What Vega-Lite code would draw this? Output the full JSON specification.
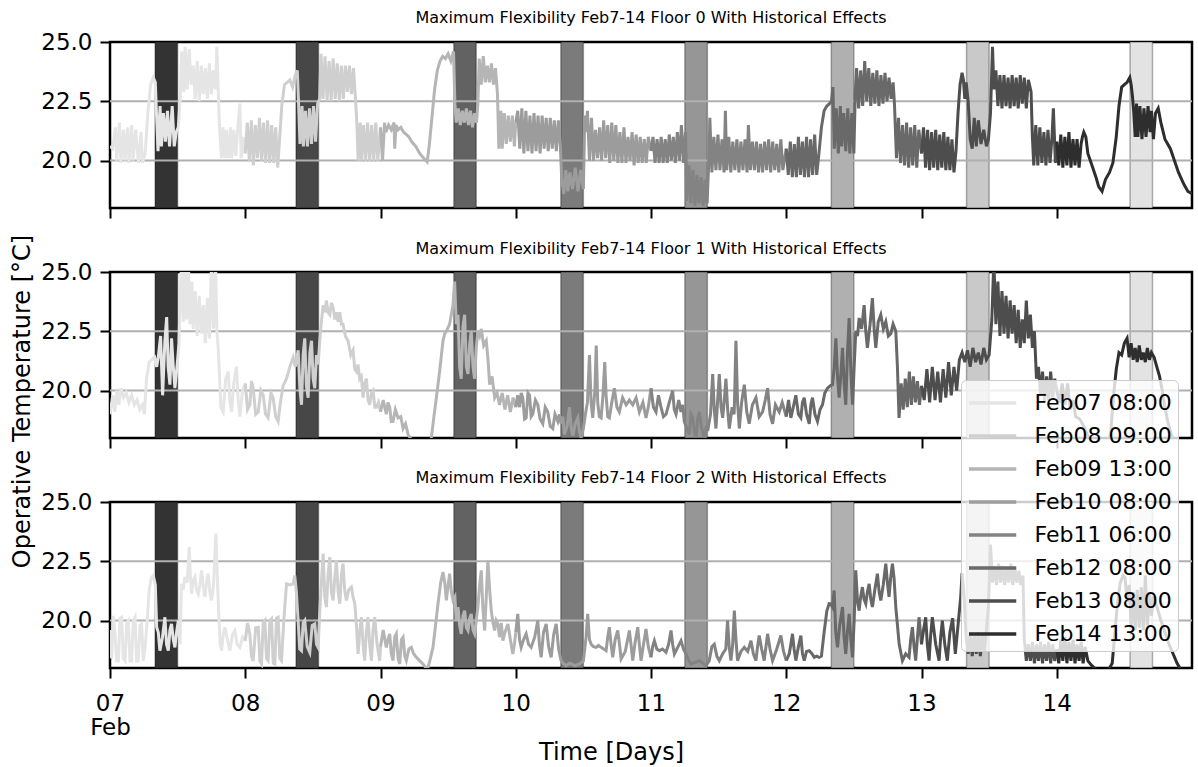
{
"$schema":"https://vega.github.io/schema/vega-lite/v6.json",
"padding":{"left":8,"top":8,"right":5,"bottom":5},
"spacing":64,
"bounds":"flush",
"config":{
"font":"DejaVu Sans",
"view":{"stroke":"black","strokeWidth":2.5},
"axis":{"domain":false,"grid":false,"tickColor":"black","tickWidth":2,"tickSize":10,"labelColor":"black","labelFontSize":23,"labelPadding":8,"titleFontSize":24,"titleFontWeight":"normal","titleColor":"black"},
"title":{"fontSize":16,"fontWeight":"normal","color":"black","offset":5,"anchor":"middle"},
"legend":{"labelFontSize":22,"labelColor":"black","symbolType":"M-1,0H2.15","symbolSize":900,"symbolStrokeWidth":3.5,"symbolOpacity":1,"symbolFillColor":"transparent","rowPadding":5,"labelOffset":33.5,"padding":6,"fillColor":"rgba(255,255,255,0.8)","strokeColor":"#cccccc","cornerRadius":5}
},
"datasets":{
"bands":[
{"s":0,"label":"Feb07 08:00","x":7.333,"x2":7.5},
{"s":1,"label":"Feb08 09:00","x":8.375,"x2":8.542},
{"s":2,"label":"Feb09 13:00","x":9.542,"x2":9.708},
{"s":3,"label":"Feb10 08:00","x":10.333,"x2":10.5},
{"s":4,"label":"Feb11 06:00","x":11.25,"x2":11.417},
{"s":5,"label":"Feb12 08:00","x":12.333,"x2":12.5},
{"s":6,"label":"Feb13 08:00","x":13.333,"x2":13.5},
{"s":7,"label":"Feb14 13:00","x":14.542,"x2":14.708}
],
"f0":[
{"s":0,"x":7.00,"y":20.6},{"s":0,"x":7.02,"y":20.5},{"s":0,"x":7.04,"y":21.4},{"s":0,"x":7.05,"y":20.0},{"s":0,"x":7.07,"y":21.6},{"s":0,"x":7.08,"y":19.9},{"s":0,"x":7.10,"y":21.3},{"s":0,"x":7.11,"y":20.0},{"s":0,"x":7.13,"y":21.4},{"s":0,"x":7.14,"y":19.9},{"s":0,"x":7.16,"y":21.5},{"s":0,"x":7.17,"y":20.0},{"s":0,"x":7.19,"y":21.3},{"s":0,"x":7.21,"y":19.9},{"s":0,"x":7.23,"y":21.2},{"s":0,"x":7.24,"y":19.9},{"s":0,"x":7.26,"y":20.3},{"s":0,"x":7.28,"y":22.0},{"s":0,"x":7.30,"y":23.2},{"s":0,"x":7.32,"y":23.5},{"s":0,"x":7.335,"y":23.3},{"s":0,"x":7.345,"y":21.8},{"s":0,"x":7.355,"y":20.4},{"s":0,"x":7.37,"y":22.3},{"s":0,"x":7.38,"y":20.6},{"s":0,"x":7.395,"y":22.0},{"s":0,"x":7.41,"y":20.8},{"s":0,"x":7.425,"y":22.1},{"s":0,"x":7.44,"y":20.6},{"s":0,"x":7.46,"y":22.3},{"s":0,"x":7.475,"y":20.6},{"s":0,"x":7.49,"y":21.2},{"s":0,"x":7.505,"y":21.4},{"s":0,"x":7.52,"y":22.7},{"s":0,"x":7.53,"y":24.6},{"s":0,"x":7.545,"y":22.9},{"s":0,"x":7.555,"y":24.8},{"s":0,"x":7.57,"y":23.0},{"s":0,"x":7.585,"y":24.7},{"s":0,"x":7.60,"y":23.2},{"s":0,"x":7.615,"y":24.0},{"s":0,"x":7.63,"y":22.6},{"s":0,"x":7.645,"y":24.2},{"s":0,"x":7.66,"y":22.5},{"s":0,"x":7.675,"y":24.0},{"s":0,"x":7.69,"y":22.8},{"s":0,"x":7.705,"y":23.9},{"s":0,"x":7.72,"y":22.6},{"s":0,"x":7.735,"y":24.1},{"s":0,"x":7.75,"y":22.8},{"s":0,"x":7.765,"y":23.8},{"s":0,"x":7.78,"y":23.0},{"s":0,"x":7.79,"y":24.8},{"s":0,"x":7.80,"y":23.0},{"s":0,"x":7.81,"y":21.4},{"s":0,"x":7.825,"y":20.1},{"s":0,"x":7.835,"y":21.4},{"s":0,"x":7.85,"y":20.1},{"s":0,"x":7.86,"y":21.3},{"s":0,"x":7.875,"y":20.1},{"s":0,"x":7.89,"y":21.4},{"s":0,"x":7.90,"y":20.1},{"s":0,"x":7.915,"y":21.3},{"s":0,"x":7.93,"y":20.2},{"s":0,"x":7.945,"y":21.4},{"s":0,"x":7.96,"y":22.4},{"s":0,"x":7.97,"y":20.1},{"s":0,"x":7.985,"y":21.0},{"s":0,"x":8.00,"y":20.3},
{"s":1,"x":8.00,"y":20.3},{"s":1,"x":8.015,"y":21.6},{"s":1,"x":8.03,"y":20.0},{"s":1,"x":8.045,"y":21.7},{"s":1,"x":8.06,"y":19.8},{"s":1,"x":8.075,"y":21.5},{"s":1,"x":8.09,"y":20.1},{"s":1,"x":8.105,"y":21.8},{"s":1,"x":8.12,"y":20.0},{"s":1,"x":8.135,"y":21.6},{"s":1,"x":8.15,"y":19.9},{"s":1,"x":8.165,"y":21.7},{"s":1,"x":8.18,"y":19.9},{"s":1,"x":8.195,"y":21.5},{"s":1,"x":8.21,"y":19.9},{"s":1,"x":8.225,"y":21.4},{"s":1,"x":8.24,"y":19.7},{"s":1,"x":8.255,"y":21.0},{"s":1,"x":8.27,"y":22.3},{"s":1,"x":8.29,"y":23.2},{"s":1,"x":8.31,"y":23.3},{"s":1,"x":8.33,"y":23.4},{"s":1,"x":8.35,"y":23.1},{"s":1,"x":8.37,"y":23.6},{"s":1,"x":8.385,"y":23.8},{"s":1,"x":8.395,"y":22.3},{"s":1,"x":8.405,"y":20.7},{"s":1,"x":8.42,"y":22.3},{"s":1,"x":8.43,"y":20.6},{"s":1,"x":8.445,"y":22.1},{"s":1,"x":8.46,"y":20.6},{"s":1,"x":8.475,"y":22.2},{"s":1,"x":8.49,"y":20.7},{"s":1,"x":8.505,"y":22.3},{"s":1,"x":8.52,"y":20.8},{"s":1,"x":8.535,"y":22.4},{"s":1,"x":8.55,"y":22.6},{"s":1,"x":8.56,"y":24.5},{"s":1,"x":8.575,"y":22.6},{"s":1,"x":8.59,"y":24.4},{"s":1,"x":8.605,"y":22.5},{"s":1,"x":8.62,"y":24.2},{"s":1,"x":8.635,"y":22.5},{"s":1,"x":8.65,"y":24.3},{"s":1,"x":8.665,"y":22.6},{"s":1,"x":8.68,"y":24.1},{"s":1,"x":8.695,"y":22.5},{"s":1,"x":8.71,"y":24.0},{"s":1,"x":8.725,"y":22.6},{"s":1,"x":8.74,"y":24.0},{"s":1,"x":8.755,"y":22.9},{"s":1,"x":8.77,"y":24.0},{"s":1,"x":8.785,"y":22.8},{"s":1,"x":8.80,"y":23.9},{"s":1,"x":8.815,"y":22.6},{"s":1,"x":8.825,"y":21.6},{"s":1,"x":8.835,"y":20.0},{"s":1,"x":8.85,"y":21.6},{"s":1,"x":8.86,"y":20.0},{"s":1,"x":8.875,"y":21.5},{"s":1,"x":8.89,"y":20.0},{"s":1,"x":8.905,"y":21.6},{"s":1,"x":8.92,"y":20.0},{"s":1,"x":8.935,"y":21.5},{"s":1,"x":8.95,"y":20.0},{"s":1,"x":8.965,"y":21.6},{"s":1,"x":8.98,"y":20.0},{"s":1,"x":9.00,"y":21.4},
{"s":2,"x":9.00,"y":21.4},{"s":2,"x":9.015,"y":20.0},{"s":2,"x":9.03,"y":21.6},{"s":2,"x":9.04,"y":21.2},{"s":2,"x":9.06,"y":21.5},{"s":2,"x":9.08,"y":21.3},{"s":2,"x":9.10,"y":21.6},{"s":2,"x":9.105,"y":20.5},{"s":2,"x":9.115,"y":21.5},{"s":2,"x":9.13,"y":21.3},{"s":2,"x":9.15,"y":21.4},{"s":2,"x":9.17,"y":21.2},{"s":2,"x":9.19,"y":21.1},{"s":2,"x":9.21,"y":21.0},{"s":2,"x":9.23,"y":20.8},{"s":2,"x":9.26,"y":20.6},{"s":2,"x":9.29,"y":20.3},{"s":2,"x":9.32,"y":20.1},{"s":2,"x":9.345,"y":19.95},{"s":2,"x":9.36,"y":20.6},{"s":2,"x":9.38,"y":21.8},{"s":2,"x":9.40,"y":23.0},{"s":2,"x":9.42,"y":23.8},{"s":2,"x":9.44,"y":24.2},{"s":2,"x":9.46,"y":24.4},{"s":2,"x":9.48,"y":24.3},{"s":2,"x":9.50,"y":24.5},{"s":2,"x":9.52,"y":24.2},{"s":2,"x":9.54,"y":24.6},{"s":2,"x":9.55,"y":22.4},{"s":2,"x":9.56,"y":21.6},{"s":2,"x":9.575,"y":22.2},{"s":2,"x":9.59,"y":21.5},{"s":2,"x":9.605,"y":22.1},{"s":2,"x":9.62,"y":21.6},{"s":2,"x":9.635,"y":22.2},{"s":2,"x":9.65,"y":21.5},{"s":2,"x":9.665,"y":22.1},{"s":2,"x":9.68,"y":21.4},{"s":2,"x":9.695,"y":22.0},{"s":2,"x":9.71,"y":21.6},{"s":2,"x":9.72,"y":22.4},{"s":2,"x":9.73,"y":24.3},{"s":2,"x":9.745,"y":23.2},{"s":2,"x":9.76,"y":24.4},{"s":2,"x":9.775,"y":23.3},{"s":2,"x":9.79,"y":24.0},{"s":2,"x":9.805,"y":23.3},{"s":2,"x":9.82,"y":24.1},{"s":2,"x":9.835,"y":23.2},{"s":2,"x":9.85,"y":23.9},{"s":2,"x":9.865,"y":22.8},{"s":2,"x":9.875,"y":20.5},{"s":2,"x":9.89,"y":22.1},{"s":2,"x":9.90,"y":20.5},{"s":2,"x":9.915,"y":22.0},{"s":2,"x":9.93,"y":20.7},{"s":2,"x":9.945,"y":21.9},{"s":2,"x":9.96,"y":20.8},{"s":2,"x":9.975,"y":21.9},{"s":2,"x":9.99,"y":20.6},{"s":2,"x":10.00,"y":21.6},
{"s":3,"x":10.00,"y":21.6},{"s":3,"x":10.015,"y":22.1},{"s":3,"x":10.03,"y":20.5},{"s":3,"x":10.045,"y":22.2},{"s":3,"x":10.06,"y":20.3},{"s":3,"x":10.075,"y":22.1},{"s":3,"x":10.09,"y":20.4},{"s":3,"x":10.105,"y":21.9},{"s":3,"x":10.12,"y":20.3},{"s":3,"x":10.135,"y":22.0},{"s":3,"x":10.15,"y":20.4},{"s":3,"x":10.165,"y":21.9},{"s":3,"x":10.18,"y":20.3},{"s":3,"x":10.195,"y":21.9},{"s":3,"x":10.21,"y":20.5},{"s":3,"x":10.225,"y":21.8},{"s":3,"x":10.24,"y":20.4},{"s":3,"x":10.255,"y":21.8},{"s":3,"x":10.27,"y":20.5},{"s":3,"x":10.285,"y":21.7},{"s":3,"x":10.30,"y":20.4},{"s":3,"x":10.315,"y":21.7},{"s":3,"x":10.33,"y":20.6},{"s":3,"x":10.34,"y":19.2},{"s":3,"x":10.355,"y":18.6},{"s":3,"x":10.37,"y":19.6},{"s":3,"x":10.385,"y":18.7},{"s":3,"x":10.40,"y":19.5},{"s":3,"x":10.42,"y":18.8},{"s":3,"x":10.44,"y":19.7},{"s":3,"x":10.46,"y":18.7},{"s":3,"x":10.48,"y":19.6},{"s":3,"x":10.50,"y":18.8},{"s":3,"x":10.51,"y":21.9},{"s":3,"x":10.52,"y":21.2},{"s":3,"x":10.53,"y":22.1},{"s":3,"x":10.545,"y":20.0},{"s":3,"x":10.56,"y":21.8},{"s":3,"x":10.575,"y":20.0},{"s":3,"x":10.59,"y":21.3},{"s":3,"x":10.605,"y":20.1},{"s":3,"x":10.62,"y":21.4},{"s":3,"x":10.635,"y":20.0},{"s":3,"x":10.65,"y":21.7},{"s":3,"x":10.665,"y":20.1},{"s":3,"x":10.68,"y":21.5},{"s":3,"x":10.695,"y":19.9},{"s":3,"x":10.71,"y":21.6},{"s":3,"x":10.725,"y":20.0},{"s":3,"x":10.74,"y":21.5},{"s":3,"x":10.755,"y":19.9},{"s":3,"x":10.77,"y":21.2},{"s":3,"x":10.785,"y":19.9},{"s":3,"x":10.80,"y":21.4},{"s":3,"x":10.815,"y":19.9},{"s":3,"x":10.83,"y":21.0},{"s":3,"x":10.845,"y":20.0},{"s":3,"x":10.86,"y":21.2},{"s":3,"x":10.875,"y":19.8},{"s":3,"x":10.89,"y":21.1},{"s":3,"x":10.905,"y":19.9},{"s":3,"x":10.92,"y":21.0},{"s":3,"x":10.935,"y":19.9},{"s":3,"x":10.95,"y":20.9},{"s":3,"x":10.965,"y":19.9},{"s":3,"x":10.98,"y":21.0},{"s":3,"x":11.00,"y":20.4},
{"s":4,"x":11.00,"y":20.4},{"s":4,"x":11.015,"y":21.0},{"s":4,"x":11.03,"y":19.9},{"s":4,"x":11.045,"y":20.9},{"s":4,"x":11.06,"y":19.9},{"s":4,"x":11.075,"y":21.0},{"s":4,"x":11.09,"y":19.9},{"s":4,"x":11.105,"y":20.9},{"s":4,"x":11.12,"y":19.9},{"s":4,"x":11.135,"y":21.1},{"s":4,"x":11.15,"y":20.0},{"s":4,"x":11.165,"y":21.0},{"s":4,"x":11.18,"y":19.9},{"s":4,"x":11.195,"y":21.2},{"s":4,"x":11.21,"y":20.0},{"s":4,"x":11.225,"y":21.5},{"s":4,"x":11.24,"y":19.9},{"s":4,"x":11.255,"y":21.2},{"s":4,"x":11.265,"y":18.3},{"s":4,"x":11.28,"y":19.8},{"s":4,"x":11.295,"y":18.2},{"s":4,"x":11.31,"y":19.6},{"s":4,"x":11.325,"y":18.1},{"s":4,"x":11.34,"y":19.4},{"s":4,"x":11.355,"y":18.2},{"s":4,"x":11.37,"y":19.3},{"s":4,"x":11.385,"y":18.1},{"s":4,"x":11.40,"y":19.2},{"s":4,"x":11.415,"y":18.2},{"s":4,"x":11.43,"y":20.4},{"s":4,"x":11.435,"y":21.8},{"s":4,"x":11.45,"y":19.5},{"s":4,"x":11.465,"y":21.0},{"s":4,"x":11.48,"y":19.6},{"s":4,"x":11.495,"y":21.1},{"s":4,"x":11.51,"y":19.6},{"s":4,"x":11.525,"y":20.9},{"s":4,"x":11.54,"y":19.5},{"s":4,"x":11.55,"y":22.1},{"s":4,"x":11.56,"y":19.6},{"s":4,"x":11.575,"y":21.0},{"s":4,"x":11.59,"y":19.5},{"s":4,"x":11.605,"y":20.8},{"s":4,"x":11.62,"y":19.6},{"s":4,"x":11.635,"y":20.9},{"s":4,"x":11.65,"y":19.5},{"s":4,"x":11.665,"y":20.8},{"s":4,"x":11.68,"y":19.6},{"s":4,"x":11.695,"y":20.9},{"s":4,"x":11.71,"y":19.5},{"s":4,"x":11.72,"y":21.5},{"s":4,"x":11.735,"y":19.6},{"s":4,"x":11.75,"y":20.8},{"s":4,"x":11.765,"y":19.6},{"s":4,"x":11.78,"y":20.8},{"s":4,"x":11.795,"y":19.5},{"s":4,"x":11.81,"y":20.7},{"s":4,"x":11.825,"y":19.5},{"s":4,"x":11.84,"y":20.8},{"s":4,"x":11.855,"y":19.6},{"s":4,"x":11.87,"y":20.9},{"s":4,"x":11.885,"y":19.5},{"s":4,"x":11.90,"y":20.8},{"s":4,"x":11.915,"y":19.6},{"s":4,"x":11.93,"y":20.7},{"s":4,"x":11.945,"y":19.5},{"s":4,"x":11.96,"y":20.9},{"s":4,"x":11.975,"y":19.6},{"s":4,"x":12.00,"y":20.5},
{"s":5,"x":12.00,"y":20.5},{"s":5,"x":12.015,"y":19.4},{"s":5,"x":12.03,"y":20.8},{"s":5,"x":12.045,"y":19.3},{"s":5,"x":12.06,"y":20.7},{"s":5,"x":12.075,"y":19.3},{"s":5,"x":12.09,"y":21.0},{"s":5,"x":12.105,"y":19.4},{"s":5,"x":12.12,"y":20.8},{"s":5,"x":12.135,"y":19.3},{"s":5,"x":12.15,"y":21.0},{"s":5,"x":12.165,"y":19.3},{"s":5,"x":12.18,"y":20.9},{"s":5,"x":12.195,"y":19.4},{"s":5,"x":12.21,"y":21.1},{"s":5,"x":12.225,"y":19.4},{"s":5,"x":12.24,"y":20.2},{"s":5,"x":12.26,"y":21.4},{"s":5,"x":12.28,"y":22.1},{"s":5,"x":12.30,"y":22.3},{"s":5,"x":12.32,"y":22.4},{"s":5,"x":12.335,"y":22.5},{"s":5,"x":12.345,"y":23.1},{"s":5,"x":12.355,"y":20.5},{"s":5,"x":12.37,"y":22.2},{"s":5,"x":12.385,"y":20.3},{"s":5,"x":12.40,"y":22.3},{"s":5,"x":12.41,"y":20.6},{"s":5,"x":12.425,"y":22.0},{"s":5,"x":12.44,"y":20.4},{"s":5,"x":12.455,"y":22.2},{"s":5,"x":12.47,"y":20.3},{"s":5,"x":12.485,"y":22.0},{"s":5,"x":12.50,"y":20.3},{"s":5,"x":12.51,"y":22.8},{"s":5,"x":12.52,"y":23.9},{"s":5,"x":12.535,"y":22.2},{"s":5,"x":12.55,"y":23.8},{"s":5,"x":12.565,"y":22.3},{"s":5,"x":12.58,"y":24.2},{"s":5,"x":12.595,"y":22.5},{"s":5,"x":12.61,"y":23.9},{"s":5,"x":12.625,"y":22.3},{"s":5,"x":12.64,"y":23.7},{"s":5,"x":12.655,"y":22.4},{"s":5,"x":12.67,"y":23.8},{"s":5,"x":12.685,"y":22.3},{"s":5,"x":12.70,"y":23.6},{"s":5,"x":12.715,"y":22.4},{"s":5,"x":12.73,"y":23.7},{"s":5,"x":12.745,"y":22.5},{"s":5,"x":12.76,"y":23.5},{"s":5,"x":12.775,"y":22.6},{"s":5,"x":12.79,"y":23.3},{"s":5,"x":12.80,"y":22.4},{"s":5,"x":12.815,"y":20.1},{"s":5,"x":12.83,"y":21.8},{"s":5,"x":12.845,"y":19.9},{"s":5,"x":12.86,"y":21.5},{"s":5,"x":12.875,"y":19.8},{"s":5,"x":12.89,"y":21.6},{"s":5,"x":12.905,"y":19.7},{"s":5,"x":12.92,"y":21.4},{"s":5,"x":12.935,"y":19.8},{"s":5,"x":12.95,"y":21.5},{"s":5,"x":12.965,"y":19.7},{"s":5,"x":12.98,"y":21.3},{"s":5,"x":13.00,"y":20.3},
{"s":6,"x":13.00,"y":20.3},{"s":6,"x":13.015,"y":21.4},{"s":6,"x":13.03,"y":19.7},{"s":6,"x":13.045,"y":21.3},{"s":6,"x":13.06,"y":19.6},{"s":6,"x":13.075,"y":21.2},{"s":6,"x":13.09,"y":19.7},{"s":6,"x":13.105,"y":21.3},{"s":6,"x":13.12,"y":19.6},{"s":6,"x":13.135,"y":21.1},{"s":6,"x":13.15,"y":19.7},{"s":6,"x":13.165,"y":21.2},{"s":6,"x":13.18,"y":19.6},{"s":6,"x":13.195,"y":21.0},{"s":6,"x":13.21,"y":19.6},{"s":6,"x":13.225,"y":20.9},{"s":6,"x":13.24,"y":19.5},{"s":6,"x":13.255,"y":20.4},{"s":6,"x":13.27,"y":22.0},{"s":6,"x":13.285,"y":23.2},{"s":6,"x":13.30,"y":23.7},{"s":6,"x":13.31,"y":23.4},{"s":6,"x":13.32,"y":22.6},{"s":6,"x":13.33,"y":23.3},{"s":6,"x":13.345,"y":22.5},{"s":6,"x":13.36,"y":20.9},{"s":6,"x":13.375,"y":20.5},{"s":6,"x":13.39,"y":21.8},{"s":6,"x":13.405,"y":20.6},{"s":6,"x":13.42,"y":21.7},{"s":6,"x":13.44,"y":20.7},{"s":6,"x":13.46,"y":21.3},{"s":6,"x":13.48,"y":20.6},{"s":6,"x":13.495,"y":20.9},{"s":6,"x":13.51,"y":22.0},{"s":6,"x":13.525,"y":24.8},{"s":6,"x":13.535,"y":23.0},{"s":6,"x":13.55,"y":23.8},{"s":6,"x":13.565,"y":22.3},{"s":6,"x":13.58,"y":23.6},{"s":6,"x":13.595,"y":22.2},{"s":6,"x":13.61,"y":23.6},{"s":6,"x":13.625,"y":22.3},{"s":6,"x":13.64,"y":23.5},{"s":6,"x":13.655,"y":22.2},{"s":6,"x":13.67,"y":23.6},{"s":6,"x":13.685,"y":22.3},{"s":6,"x":13.70,"y":23.5},{"s":6,"x":13.715,"y":22.2},{"s":6,"x":13.73,"y":23.6},{"s":6,"x":13.745,"y":22.4},{"s":6,"x":13.76,"y":23.5},{"s":6,"x":13.775,"y":22.2},{"s":6,"x":13.79,"y":23.4},{"s":6,"x":13.81,"y":22.9},{"s":6,"x":13.82,"y":21.0},{"s":6,"x":13.83,"y":19.8},{"s":6,"x":13.845,"y":21.5},{"s":6,"x":13.86,"y":19.8},{"s":6,"x":13.875,"y":21.4},{"s":6,"x":13.89,"y":19.9},{"s":6,"x":13.905,"y":21.2},{"s":6,"x":13.92,"y":19.8},{"s":6,"x":13.935,"y":21.3},{"s":6,"x":13.95,"y":19.9},{"s":6,"x":13.965,"y":21.0},{"s":6,"x":13.975,"y":22.2},{"s":6,"x":13.99,"y":19.9},{"s":6,"x":14.00,"y":20.8},
{"s":7,"x":14.00,"y":20.8},{"s":7,"x":14.015,"y":19.8},{"s":7,"x":14.03,"y":21.1},{"s":7,"x":14.045,"y":19.7},{"s":7,"x":14.06,"y":21.0},{"s":7,"x":14.075,"y":19.8},{"s":7,"x":14.09,"y":21.2},{"s":7,"x":14.105,"y":19.7},{"s":7,"x":14.12,"y":20.9},{"s":7,"x":14.135,"y":19.8},{"s":7,"x":14.15,"y":20.9},{"s":7,"x":14.165,"y":19.7},{"s":7,"x":14.18,"y":20.7},{"s":7,"x":14.19,"y":21.0},{"s":7,"x":14.20,"y":21.2},{"s":7,"x":14.215,"y":21.0},{"s":7,"x":14.23,"y":20.3},{"s":7,"x":14.26,"y":19.8},{"s":7,"x":14.29,"y":19.3},{"s":7,"x":14.31,"y":18.9},{"s":7,"x":14.335,"y":18.7},{"s":7,"x":14.36,"y":19.2},{"s":7,"x":14.39,"y":19.5},{"s":7,"x":14.415,"y":19.9},{"s":7,"x":14.44,"y":21.0},{"s":7,"x":14.46,"y":22.3},{"s":7,"x":14.48,"y":23.1},{"s":7,"x":14.50,"y":23.2},{"s":7,"x":14.52,"y":23.3},{"s":7,"x":14.54,"y":23.5},{"s":7,"x":14.55,"y":23.2},{"s":7,"x":14.56,"y":22.7},{"s":7,"x":14.57,"y":22.0},{"s":7,"x":14.58,"y":21.0},{"s":7,"x":14.59,"y":22.4},{"s":7,"x":14.60,"y":21.0},{"s":7,"x":14.615,"y":22.3},{"s":7,"x":14.63,"y":20.9},{"s":7,"x":14.645,"y":22.2},{"s":7,"x":14.66,"y":21.0},{"s":7,"x":14.675,"y":22.3},{"s":7,"x":14.69,"y":21.2},{"s":7,"x":14.70,"y":22.1},{"s":7,"x":14.715,"y":20.9},{"s":7,"x":14.73,"y":22.0},{"s":7,"x":14.75,"y":22.2},{"s":7,"x":14.77,"y":21.6},{"s":7,"x":14.80,"y":20.9},{"s":7,"x":14.84,"y":20.5},{"s":7,"x":14.87,"y":20.0},{"s":7,"x":14.90,"y":19.5},{"s":7,"x":14.94,"y":19.0},{"s":7,"x":14.97,"y":18.7},{"s":7,"x":15.00,"y":18.6}
],
"f1":[
{"s":0,"x":7.00,"y":19.0},{"s":0,"x":7.02,"y":19.8},{"s":0,"x":7.035,"y":19.1},{"s":0,"x":7.05,"y":20.0},{"s":0,"x":7.065,"y":19.4},{"s":0,"x":7.08,"y":20.1},{"s":0,"x":7.10,"y":19.7},{"s":0,"x":7.12,"y":19.9},{"s":0,"x":7.14,"y":19.5},{"s":0,"x":7.16,"y":19.8},{"s":0,"x":7.18,"y":19.4},{"s":0,"x":7.20,"y":19.6},{"s":0,"x":7.22,"y":19.2},{"s":0,"x":7.24,"y":19.4},{"s":0,"x":7.255,"y":19.0},{"s":0,"x":7.27,"y":20.5},{"s":0,"x":7.29,"y":21.2},{"s":0,"x":7.31,"y":21.3},{"s":0,"x":7.33,"y":21.4},{"s":0,"x":7.345,"y":21.0},{"s":0,"x":7.357,"y":21.4},{"s":0,"x":7.374,"y":22.3},{"s":0,"x":7.389,"y":19.8},{"s":0,"x":7.406,"y":22.1},{"s":0,"x":7.419,"y":23.1},{"s":0,"x":7.43,"y":21.0},{"s":0,"x":7.443,"y":20.25},{"s":0,"x":7.455,"y":22.2},{"s":0,"x":7.468,"y":21.0},{"s":0,"x":7.48,"y":20.1},{"s":0,"x":7.497,"y":21.1},{"s":0,"x":7.51,"y":22.0},{"s":0,"x":7.517,"y":23.5},{"s":0,"x":7.529,"y":25.5},{"s":0,"x":7.542,"y":22.9},{"s":0,"x":7.555,"y":25.3},{"s":0,"x":7.566,"y":23.0},{"s":0,"x":7.58,"y":25.4},{"s":0,"x":7.591,"y":22.8},{"s":0,"x":7.605,"y":24.6},{"s":0,"x":7.615,"y":22.6},{"s":0,"x":7.63,"y":24.2},{"s":0,"x":7.645,"y":22.3},{"s":0,"x":7.66,"y":24.0},{"s":0,"x":7.675,"y":22.4},{"s":0,"x":7.69,"y":23.6},{"s":0,"x":7.705,"y":22.0},{"s":0,"x":7.72,"y":23.9},{"s":0,"x":7.735,"y":22.2},{"s":0,"x":7.75,"y":25.3},{"s":0,"x":7.765,"y":22.6},{"s":0,"x":7.78,"y":25.5},{"s":0,"x":7.79,"y":22.5},{"s":0,"x":7.80,"y":21.8},{"s":0,"x":7.82,"y":19.3},{"s":0,"x":7.837,"y":19.1},{"s":0,"x":7.855,"y":20.5},{"s":0,"x":7.874,"y":20.8},{"s":0,"x":7.886,"y":19.6},{"s":0,"x":7.899,"y":19.1},{"s":0,"x":7.915,"y":20.3},{"s":0,"x":7.935,"y":21.0},{"s":0,"x":7.948,"y":19.6},{"s":0,"x":7.96,"y":18.9},{"s":0,"x":7.98,"y":20.0},{"s":0,"x":8.00,"y":20.3},
{"s":1,"x":8.00,"y":20.3},{"s":1,"x":8.017,"y":19.2},{"s":1,"x":8.034,"y":19.4},{"s":1,"x":8.046,"y":20.4},{"s":1,"x":8.059,"y":20.1},{"s":1,"x":8.077,"y":19.0},{"s":1,"x":8.096,"y":19.1},{"s":1,"x":8.115,"y":20.0},{"s":1,"x":8.133,"y":19.8},{"s":1,"x":8.15,"y":19.0},{"s":1,"x":8.169,"y":18.85},{"s":1,"x":8.19,"y":19.9},{"s":1,"x":8.206,"y":19.7},{"s":1,"x":8.225,"y":18.9},{"s":1,"x":8.243,"y":18.7},{"s":1,"x":8.26,"y":19.5},{"s":1,"x":8.28,"y":20.2},{"s":1,"x":8.305,"y":20.5},{"s":1,"x":8.33,"y":21.0},{"s":1,"x":8.354,"y":21.4},{"s":1,"x":8.37,"y":21.0},{"s":1,"x":8.391,"y":21.7},{"s":1,"x":8.405,"y":20.0},{"s":1,"x":8.416,"y":19.4},{"s":1,"x":8.428,"y":21.5},{"s":1,"x":8.44,"y":22.2},{"s":1,"x":8.452,"y":20.2},{"s":1,"x":8.465,"y":19.7},{"s":1,"x":8.478,"y":21.6},{"s":1,"x":8.49,"y":22.1},{"s":1,"x":8.502,"y":20.5},{"s":1,"x":8.514,"y":20.1},{"s":1,"x":8.527,"y":21.5},{"s":1,"x":8.539,"y":21.1},{"s":1,"x":8.551,"y":22.1},{"s":1,"x":8.563,"y":22.9},{"s":1,"x":8.576,"y":23.6},{"s":1,"x":8.588,"y":23.3},{"s":1,"x":8.6,"y":23.8},{"s":1,"x":8.612,"y":23.3},{"s":1,"x":8.625,"y":23.2},{"s":1,"x":8.637,"y":23.7},{"s":1,"x":8.65,"y":23.5},{"s":1,"x":8.662,"y":23.0},{"s":1,"x":8.674,"y":23.3},{"s":1,"x":8.687,"y":22.9},{"s":1,"x":8.699,"y":23.3},{"s":1,"x":8.711,"y":22.8},{"s":1,"x":8.723,"y":22.8},{"s":1,"x":8.74,"y":22.3},{"s":1,"x":8.76,"y":22.1},{"s":1,"x":8.78,"y":21.5},{"s":1,"x":8.797,"y":21.7},{"s":1,"x":8.81,"y":20.9},{"s":1,"x":8.822,"y":20.8},{"s":1,"x":8.834,"y":21.1},{"s":1,"x":8.846,"y":20.5},{"s":1,"x":8.858,"y":20.6},{"s":1,"x":8.871,"y":19.7},{"s":1,"x":8.883,"y":20.3},{"s":1,"x":8.896,"y":20.5},{"s":1,"x":8.908,"y":19.6},{"s":1,"x":8.92,"y":19.4},{"s":1,"x":8.933,"y":19.9},{"s":1,"x":8.945,"y":20.0},{"s":1,"x":8.958,"y":19.3},{"s":1,"x":8.97,"y":19.3},{"s":1,"x":8.985,"y":19.5},{"s":1,"x":9.00,"y":19.1},
{"s":2,"x":9.00,"y":19.1},{"s":2,"x":9.02,"y":19.6},{"s":2,"x":9.043,"y":19.0},{"s":2,"x":9.055,"y":19.5},{"s":2,"x":9.068,"y":19.3},{"s":2,"x":9.08,"y":18.7},{"s":2,"x":9.093,"y":18.7},{"s":2,"x":9.11,"y":19.2},{"s":2,"x":9.13,"y":18.85},{"s":2,"x":9.15,"y":18.9},{"s":2,"x":9.167,"y":18.4},{"s":2,"x":9.185,"y":18.6},{"s":2,"x":9.204,"y":18.15},{"s":2,"x":9.22,"y":18.0},{"s":2,"x":9.25,"y":17.6},{"s":2,"x":9.28,"y":17.3},{"s":2,"x":9.31,"y":17.2},{"s":2,"x":9.34,"y":17.4},{"s":2,"x":9.36,"y":17.7},{"s":2,"x":9.376,"y":18.0},{"s":2,"x":9.395,"y":18.9},{"s":2,"x":9.413,"y":19.7},{"s":2,"x":9.437,"y":20.8},{"s":2,"x":9.462,"y":22.1},{"s":2,"x":9.475,"y":22.4},{"s":2,"x":9.487,"y":22.5},{"s":2,"x":9.511,"y":22.8},{"s":2,"x":9.536,"y":23.6},{"s":2,"x":9.548,"y":24.6},{"s":2,"x":9.56,"y":22.8},{"s":2,"x":9.573,"y":23.2},{"s":2,"x":9.585,"y":21.0},{"s":2,"x":9.597,"y":20.5},{"s":2,"x":9.61,"y":22.7},{"s":2,"x":9.622,"y":23.2},{"s":2,"x":9.635,"y":21.0},{"s":2,"x":9.647,"y":20.7},{"s":2,"x":9.66,"y":22.0},{"s":2,"x":9.671,"y":22.5},{"s":2,"x":9.684,"y":21.0},{"s":2,"x":9.696,"y":20.5},{"s":2,"x":9.708,"y":21.8},{"s":2,"x":9.72,"y":22.5},{"s":2,"x":9.733,"y":22.3},{"s":2,"x":9.745,"y":22.6},{"s":2,"x":9.763,"y":21.9},{"s":2,"x":9.782,"y":22.1},{"s":2,"x":9.795,"y":21.3},{"s":2,"x":9.807,"y":20.25},{"s":2,"x":9.825,"y":20.6},{"s":2,"x":9.844,"y":19.7},{"s":2,"x":9.862,"y":19.9},{"s":2,"x":9.88,"y":19.4},{"s":2,"x":9.90,"y":19.9},{"s":2,"x":9.92,"y":19.2},{"s":2,"x":9.94,"y":19.8},{"s":2,"x":9.96,"y":19.1},{"s":2,"x":9.98,"y":19.7},{"s":2,"x":10.00,"y":19.3},
{"s":3,"x":10.00,"y":19.3},{"s":3,"x":10.014,"y":19.8},{"s":3,"x":10.028,"y":19.3},{"s":3,"x":10.04,"y":19.9},{"s":3,"x":10.052,"y":19.7},{"s":3,"x":10.065,"y":18.8},{"s":3,"x":10.077,"y":18.85},{"s":3,"x":10.09,"y":19.9},{"s":3,"x":10.102,"y":19.8},{"s":3,"x":10.114,"y":18.9},{"s":3,"x":10.126,"y":19.0},{"s":3,"x":10.145,"y":19.6},{"s":3,"x":10.163,"y":19.4},{"s":3,"x":10.18,"y":18.8},{"s":3,"x":10.2,"y":18.6},{"s":3,"x":10.218,"y":19.3},{"s":3,"x":10.237,"y":19.1},{"s":3,"x":10.255,"y":18.5},{"s":3,"x":10.274,"y":18.4},{"s":3,"x":10.29,"y":19.0},{"s":3,"x":10.311,"y":18.7},{"s":3,"x":10.323,"y":19.0},{"s":3,"x":10.335,"y":18.6},{"s":3,"x":10.348,"y":18.9},{"s":3,"x":10.36,"y":18.15},{"s":3,"x":10.38,"y":18.5},{"s":3,"x":10.397,"y":19.3},{"s":3,"x":10.41,"y":18.4},{"s":3,"x":10.422,"y":18.1},{"s":3,"x":10.44,"y":18.6},{"s":3,"x":10.459,"y":18.85},{"s":3,"x":10.47,"y":18.3},{"s":3,"x":10.483,"y":18.0},{"s":3,"x":10.5,"y":18.4},{"s":3,"x":10.515,"y":19.0},{"s":3,"x":10.53,"y":19.5},{"s":3,"x":10.545,"y":21.5},{"s":3,"x":10.557,"y":19.5},{"s":3,"x":10.569,"y":18.85},{"s":3,"x":10.585,"y":20.0},{"s":3,"x":10.595,"y":21.9},{"s":3,"x":10.606,"y":19.5},{"s":3,"x":10.618,"y":18.9},{"s":3,"x":10.631,"y":18.85},{"s":3,"x":10.645,"y":19.8},{"s":3,"x":10.658,"y":21.2},{"s":3,"x":10.668,"y":19.8},{"s":3,"x":10.68,"y":18.9},{"s":3,"x":10.692,"y":18.85},{"s":3,"x":10.71,"y":19.5},{"s":3,"x":10.729,"y":20.1},{"s":3,"x":10.748,"y":19.3},{"s":3,"x":10.766,"y":19.1},{"s":3,"x":10.79,"y":19.7},{"s":3,"x":10.816,"y":19.4},{"s":3,"x":10.84,"y":19.6},{"s":3,"x":10.865,"y":19.4},{"s":3,"x":10.89,"y":19.7},{"s":3,"x":10.914,"y":19.1},{"s":3,"x":10.94,"y":19.5},{"s":3,"x":10.963,"y":18.85},{"s":3,"x":10.98,"y":19.3},{"s":3,"x":11.00,"y":20.1},
{"s":4,"x":11.00,"y":20.1},{"s":4,"x":11.018,"y":19.3},{"s":4,"x":11.037,"y":19.1},{"s":4,"x":11.055,"y":19.8},{"s":4,"x":11.074,"y":19.3},{"s":4,"x":11.092,"y":18.9},{"s":4,"x":11.111,"y":19.0},{"s":4,"x":11.135,"y":19.5},{"s":4,"x":11.16,"y":20.0},{"s":4,"x":11.172,"y":19.2},{"s":4,"x":11.185,"y":19.0},{"s":4,"x":11.205,"y":19.6},{"s":4,"x":11.222,"y":19.1},{"s":4,"x":11.235,"y":19.4},{"s":4,"x":11.246,"y":18.7},{"s":4,"x":11.265,"y":18.4},{"s":4,"x":11.283,"y":18.15},{"s":4,"x":11.296,"y":19.0},{"s":4,"x":11.308,"y":18.85},{"s":4,"x":11.32,"y":18.3},{"s":4,"x":11.333,"y":18.0},{"s":4,"x":11.345,"y":18.8},{"s":4,"x":11.357,"y":19.1},{"s":4,"x":11.375,"y":18.4},{"s":4,"x":11.394,"y":18.0},{"s":4,"x":11.41,"y":18.5},{"s":4,"x":11.419,"y":18.3},{"s":4,"x":11.44,"y":19.0},{"s":4,"x":11.456,"y":20.7},{"s":4,"x":11.468,"y":19.2},{"s":4,"x":11.48,"y":18.4},{"s":4,"x":11.492,"y":19.5},{"s":4,"x":11.505,"y":20.7},{"s":4,"x":11.518,"y":19.3},{"s":4,"x":11.53,"y":18.85},{"s":4,"x":11.542,"y":19.6},{"s":4,"x":11.554,"y":20.5},{"s":4,"x":11.567,"y":19.2},{"s":4,"x":11.579,"y":18.4},{"s":4,"x":11.6,"y":19.3},{"s":4,"x":11.615,"y":19.0},{"s":4,"x":11.628,"y":22.1},{"s":4,"x":11.64,"y":19.5},{"s":4,"x":11.653,"y":18.4},{"s":4,"x":11.67,"y":19.5},{"s":4,"x":11.69,"y":20.25},{"s":4,"x":11.708,"y":19.1},{"s":4,"x":11.726,"y":18.6},{"s":4,"x":11.75,"y":19.4},{"s":4,"x":11.776,"y":19.7},{"s":4,"x":11.8,"y":18.9},{"s":4,"x":11.825,"y":19.1},{"s":4,"x":11.845,"y":19.6},{"s":4,"x":11.862,"y":20.1},{"s":4,"x":11.88,"y":19.0},{"s":4,"x":11.899,"y":18.6},{"s":4,"x":11.92,"y":19.4},{"s":4,"x":11.948,"y":19.1},{"s":4,"x":11.97,"y":19.5},{"s":4,"x":12.00,"y":18.9},
{"s":5,"x":12.00,"y":18.9},{"s":5,"x":12.017,"y":19.6},{"s":5,"x":12.034,"y":18.85},{"s":5,"x":12.052,"y":19.3},{"s":5,"x":12.071,"y":19.8},{"s":5,"x":12.09,"y":19.0},{"s":5,"x":12.108,"y":18.85},{"s":5,"x":12.12,"y":19.5},{"s":5,"x":12.133,"y":19.7},{"s":5,"x":12.15,"y":19.0},{"s":5,"x":12.17,"y":18.6},{"s":5,"x":12.182,"y":19.4},{"s":5,"x":12.194,"y":19.7},{"s":5,"x":12.212,"y":19.0},{"s":5,"x":12.231,"y":18.7},{"s":5,"x":12.25,"y":19.2},{"s":5,"x":12.268,"y":19.4},{"s":5,"x":12.285,"y":19.9},{"s":5,"x":12.305,"y":20.1},{"s":5,"x":12.325,"y":20.2},{"s":5,"x":12.342,"y":20.25},{"s":5,"x":12.355,"y":21.0},{"s":5,"x":12.367,"y":22.2},{"s":5,"x":12.38,"y":20.5},{"s":5,"x":12.391,"y":19.7},{"s":5,"x":12.405,"y":20.8},{"s":5,"x":12.416,"y":21.8},{"s":5,"x":12.428,"y":20.3},{"s":5,"x":12.44,"y":19.4},{"s":5,"x":12.452,"y":21.5},{"s":5,"x":12.465,"y":23.06},{"s":5,"x":12.478,"y":20.8},{"s":5,"x":12.49,"y":19.4},{"s":5,"x":12.502,"y":21.0},{"s":5,"x":12.514,"y":22.5},{"s":5,"x":12.527,"y":22.3},{"s":5,"x":12.539,"y":23.06},{"s":5,"x":12.557,"y":22.6},{"s":5,"x":12.576,"y":23.6},{"s":5,"x":12.588,"y":22.5},{"s":5,"x":12.6,"y":21.8},{"s":5,"x":12.62,"y":22.8},{"s":5,"x":12.637,"y":23.9},{"s":5,"x":12.65,"y":22.6},{"s":5,"x":12.662,"y":21.8},{"s":5,"x":12.68,"y":22.9},{"s":5,"x":12.699,"y":23.2},{"s":5,"x":12.718,"y":22.6},{"s":5,"x":12.736,"y":22.9},{"s":5,"x":12.755,"y":22.3},{"s":5,"x":12.773,"y":22.4},{"s":5,"x":12.79,"y":22.8},{"s":5,"x":12.81,"y":22.5},{"s":5,"x":12.822,"y":21.0},{"s":5,"x":12.834,"y":18.85},{"s":5,"x":12.85,"y":20.3},{"s":5,"x":12.865,"y":19.2},{"s":5,"x":12.88,"y":20.5},{"s":5,"x":12.895,"y":19.3},{"s":5,"x":12.91,"y":20.8},{"s":5,"x":12.925,"y":19.4},{"s":5,"x":12.94,"y":20.6},{"s":5,"x":12.955,"y":19.5},{"s":5,"x":12.97,"y":20.4},{"s":5,"x":12.985,"y":19.4},{"s":5,"x":13.00,"y":20.2},
{"s":6,"x":13.00,"y":20.2},{"s":6,"x":13.02,"y":19.6},{"s":6,"x":13.04,"y":20.9},{"s":6,"x":13.06,"y":19.5},{"s":6,"x":13.08,"y":21.0},{"s":6,"x":13.10,"y":19.6},{"s":6,"x":13.12,"y":20.8},{"s":6,"x":13.14,"y":19.5},{"s":6,"x":13.16,"y":20.9},{"s":6,"x":13.18,"y":19.7},{"s":6,"x":13.20,"y":21.2},{"s":6,"x":13.22,"y":19.8},{"s":6,"x":13.24,"y":21.0},{"s":6,"x":13.26,"y":20.0},{"s":6,"x":13.28,"y":21.3},{"s":6,"x":13.30,"y":21.6},{"s":6,"x":13.32,"y":21.2},{"s":6,"x":13.34,"y":21.7},{"s":6,"x":13.36,"y":21.0},{"s":6,"x":13.38,"y":21.8},{"s":6,"x":13.40,"y":21.2},{"s":6,"x":13.42,"y":21.6},{"s":6,"x":13.44,"y":21.1},{"s":6,"x":13.46,"y":21.8},{"s":6,"x":13.48,"y":21.3},{"s":6,"x":13.50,"y":21.5},{"s":6,"x":13.52,"y":23.0},{"s":6,"x":13.535,"y":25.5},{"s":6,"x":13.55,"y":22.8},{"s":6,"x":13.565,"y":24.6},{"s":6,"x":13.58,"y":22.3},{"s":6,"x":13.595,"y":24.2},{"s":6,"x":13.61,"y":22.4},{"s":6,"x":13.625,"y":24.0},{"s":6,"x":13.64,"y":22.2},{"s":6,"x":13.655,"y":23.8},{"s":6,"x":13.67,"y":22.4},{"s":6,"x":13.685,"y":23.6},{"s":6,"x":13.70,"y":22.0},{"s":6,"x":13.715,"y":23.4},{"s":6,"x":13.73,"y":21.8},{"s":6,"x":13.745,"y":23.0},{"s":6,"x":13.76,"y":22.0},{"s":6,"x":13.775,"y":23.8},{"s":6,"x":13.79,"y":22.2},{"s":6,"x":13.805,"y":23.2},{"s":6,"x":13.82,"y":21.8},{"s":6,"x":13.835,"y":22.5},{"s":6,"x":13.85,"y":20.5},{"s":6,"x":13.865,"y":21.0},{"s":6,"x":13.88,"y":19.8},{"s":6,"x":13.895,"y":20.8},{"s":6,"x":13.91,"y":19.5},{"s":6,"x":13.925,"y":20.6},{"s":6,"x":13.94,"y":19.6},{"s":6,"x":13.955,"y":20.8},{"s":6,"x":13.97,"y":19.7},{"s":6,"x":13.985,"y":20.5},{"s":6,"x":14.00,"y":20.0},
{"s":7,"x":14.00,"y":20.0},{"s":7,"x":14.02,"y":19.5},{"s":7,"x":14.04,"y":20.3},{"s":7,"x":14.06,"y":19.4},{"s":7,"x":14.08,"y":20.3},{"s":7,"x":14.10,"y":19.2},{"s":7,"x":14.12,"y":19.6},{"s":7,"x":14.14,"y":18.9},{"s":7,"x":14.17,"y":18.8},{"s":7,"x":14.20,"y":18.5},{"s":7,"x":14.23,"y":18.1},{"s":7,"x":14.26,"y":17.7},{"s":7,"x":14.30,"y":17.4},{"s":7,"x":14.34,"y":17.3},{"s":7,"x":14.38,"y":17.6},{"s":7,"x":14.40,"y":18.3},{"s":7,"x":14.42,"y":19.8},{"s":7,"x":14.44,"y":20.9},{"s":7,"x":14.46,"y":21.6},{"s":7,"x":14.48,"y":21.5},{"s":7,"x":14.50,"y":22.0},{"s":7,"x":14.52,"y":22.2},{"s":7,"x":14.535,"y":21.4},{"s":7,"x":14.55,"y":22.0},{"s":7,"x":14.565,"y":21.3},{"s":7,"x":14.58,"y":21.8},{"s":7,"x":14.595,"y":21.2},{"s":7,"x":14.61,"y":21.9},{"s":7,"x":14.625,"y":21.3},{"s":7,"x":14.64,"y":21.6},{"s":7,"x":14.655,"y":21.2},{"s":7,"x":14.67,"y":21.8},{"s":7,"x":14.685,"y":21.3},{"s":7,"x":14.70,"y":21.6},{"s":7,"x":14.72,"y":21.4},{"s":7,"x":14.74,"y":21.0},{"s":7,"x":14.76,"y":20.6},{"s":7,"x":14.78,"y":20.0},{"s":7,"x":14.80,"y":19.3},{"s":7,"x":14.82,"y":18.7},{"s":7,"x":14.85,"y":18.1},{"s":7,"x":14.88,"y":17.6},{"s":7,"x":14.92,"y":17.2},{"s":7,"x":14.96,"y":17.0},{"s":7,"x":15.00,"y":16.9}
],
"f2":[
{"s":0,"x":7.00,"y":19.6},{"s":0,"x":7.012,"y":18.4},{"s":0,"x":7.025,"y":20.2},{"s":0,"x":7.037,"y":19.44},{"s":0,"x":7.05,"y":18.3},{"s":0,"x":7.062,"y":18.3},{"s":0,"x":7.074,"y":20.1},{"s":0,"x":7.086,"y":20.14},{"s":0,"x":7.098,"y":18.4},{"s":0,"x":7.111,"y":18.3},{"s":0,"x":7.123,"y":19.9},{"s":0,"x":7.135,"y":20.0},{"s":0,"x":7.148,"y":18.3},{"s":0,"x":7.16,"y":18.3},{"s":0,"x":7.172,"y":20.0},{"s":0,"x":7.185,"y":20.14},{"s":0,"x":7.197,"y":18.3},{"s":0,"x":7.209,"y":18.3},{"s":0,"x":7.222,"y":19.8},{"s":0,"x":7.234,"y":19.86},{"s":0,"x":7.246,"y":18.3},{"s":0,"x":7.26,"y":18.9},{"s":0,"x":7.275,"y":20.0},{"s":0,"x":7.29,"y":21.3},{"s":0,"x":7.305,"y":21.8},{"s":0,"x":7.32,"y":21.9},{"s":0,"x":7.335,"y":21.5},{"s":0,"x":7.345,"y":19.72},{"s":0,"x":7.357,"y":19.5},{"s":0,"x":7.369,"y":18.73},{"s":0,"x":7.388,"y":19.3},{"s":0,"x":7.406,"y":20.14},{"s":0,"x":7.418,"y":19.0},{"s":0,"x":7.431,"y":18.73},{"s":0,"x":7.443,"y":19.6},{"s":0,"x":7.455,"y":19.86},{"s":0,"x":7.468,"y":19.2},{"s":0,"x":7.48,"y":18.87},{"s":0,"x":7.492,"y":19.5},{"s":0,"x":7.505,"y":20.0},{"s":0,"x":7.517,"y":19.0},{"s":0,"x":7.529,"y":21.55},{"s":0,"x":7.541,"y":21.3},{"s":0,"x":7.554,"y":21.84},{"s":0,"x":7.57,"y":21.6},{"s":0,"x":7.586,"y":23.1},{"s":0,"x":7.594,"y":21.9},{"s":0,"x":7.603,"y":21.13},{"s":0,"x":7.615,"y":21.7},{"s":0,"x":7.628,"y":21.84},{"s":0,"x":7.64,"y":21.3},{"s":0,"x":7.653,"y":21.13},{"s":0,"x":7.665,"y":21.5},{"s":0,"x":7.677,"y":22.12},{"s":0,"x":7.69,"y":21.4},{"s":0,"x":7.702,"y":21.0},{"s":0,"x":7.714,"y":21.6},{"s":0,"x":7.726,"y":21.98},{"s":0,"x":7.738,"y":21.2},{"s":0,"x":7.751,"y":20.85},{"s":0,"x":7.765,"y":21.5},{"s":0,"x":7.783,"y":23.67},{"s":0,"x":7.795,"y":21.6},{"s":0,"x":7.805,"y":20.2},{"s":0,"x":7.815,"y":19.0},{"s":0,"x":7.825,"y":18.73},{"s":0,"x":7.837,"y":19.4},{"s":0,"x":7.849,"y":19.72},{"s":0,"x":7.868,"y":19.2},{"s":0,"x":7.886,"y":18.73},{"s":0,"x":7.905,"y":19.4},{"s":0,"x":7.923,"y":19.58},{"s":0,"x":7.94,"y":19.0},{"s":0,"x":7.96,"y":18.87},{"s":0,"x":7.98,"y":19.3},{"s":0,"x":8.00,"y":19.15},
{"s":1,"x":8.00,"y":19.15},{"s":1,"x":8.017,"y":19.9},{"s":1,"x":8.034,"y":19.44},{"s":1,"x":8.046,"y":18.5},{"s":1,"x":8.059,"y":18.3},{"s":1,"x":8.077,"y":19.7},{"s":1,"x":8.096,"y":19.72},{"s":1,"x":8.108,"y":18.3},{"s":1,"x":8.12,"y":18.17},{"s":1,"x":8.133,"y":19.9},{"s":1,"x":8.145,"y":20.0},{"s":1,"x":8.157,"y":18.4},{"s":1,"x":8.169,"y":18.31},{"s":1,"x":8.182,"y":20.0},{"s":1,"x":8.194,"y":20.07},{"s":1,"x":8.207,"y":18.2},{"s":1,"x":8.219,"y":18.17},{"s":1,"x":8.231,"y":20.1},{"s":1,"x":8.243,"y":20.14},{"s":1,"x":8.256,"y":18.4},{"s":1,"x":8.268,"y":18.31},{"s":1,"x":8.285,"y":20.0},{"s":1,"x":8.305,"y":21.55},{"s":1,"x":8.33,"y":21.5},{"s":1,"x":8.354,"y":21.55},{"s":1,"x":8.366,"y":21.9},{"s":1,"x":8.378,"y":21.2},{"s":1,"x":8.391,"y":20.0},{"s":1,"x":8.403,"y":18.8},{"s":1,"x":8.416,"y":18.73},{"s":1,"x":8.428,"y":19.9},{"s":1,"x":8.44,"y":20.0},{"s":1,"x":8.458,"y":18.9},{"s":1,"x":8.477,"y":18.66},{"s":1,"x":8.495,"y":19.8},{"s":1,"x":8.514,"y":19.86},{"s":1,"x":8.527,"y":19.0},{"s":1,"x":8.539,"y":18.87},{"s":1,"x":8.551,"y":20.4},{"s":1,"x":8.563,"y":21.6},{"s":1,"x":8.576,"y":22.82},{"s":1,"x":8.588,"y":21.0},{"s":1,"x":8.6,"y":20.57},{"s":1,"x":8.612,"y":21.9},{"s":1,"x":8.625,"y":22.68},{"s":1,"x":8.637,"y":21.2},{"s":1,"x":8.65,"y":20.85},{"s":1,"x":8.662,"y":21.8},{"s":1,"x":8.674,"y":22.54},{"s":1,"x":8.687,"y":21.2},{"s":1,"x":8.699,"y":20.71},{"s":1,"x":8.711,"y":21.9},{"s":1,"x":8.723,"y":22.4},{"s":1,"x":8.735,"y":21.3},{"s":1,"x":8.748,"y":20.85},{"s":1,"x":8.765,"y":21.3},{"s":1,"x":8.785,"y":21.41},{"s":1,"x":8.797,"y":21.0},{"s":1,"x":8.81,"y":20.71},{"s":1,"x":8.822,"y":19.8},{"s":1,"x":8.834,"y":18.59},{"s":1,"x":8.846,"y":19.5},{"s":1,"x":8.859,"y":20.14},{"s":1,"x":8.871,"y":19.0},{"s":1,"x":8.883,"y":18.31},{"s":1,"x":8.895,"y":19.5},{"s":1,"x":8.908,"y":20.14},{"s":1,"x":8.92,"y":19.0},{"s":1,"x":8.933,"y":18.31},{"s":1,"x":8.945,"y":19.6},{"s":1,"x":8.957,"y":20.14},{"s":1,"x":8.975,"y":19.0},{"s":1,"x":8.994,"y":18.31},{"s":1,"x":9.00,"y":18.9},
{"s":2,"x":9.00,"y":18.9},{"s":2,"x":9.02,"y":19.6},{"s":2,"x":9.043,"y":18.87},{"s":2,"x":9.055,"y":19.2},{"s":2,"x":9.068,"y":19.44},{"s":2,"x":9.08,"y":18.6},{"s":2,"x":9.093,"y":18.31},{"s":2,"x":9.105,"y":19.3},{"s":2,"x":9.117,"y":19.44},{"s":2,"x":9.13,"y":18.4},{"s":2,"x":9.142,"y":18.17},{"s":2,"x":9.155,"y":19.2},{"s":2,"x":9.167,"y":19.3},{"s":2,"x":9.18,"y":18.5},{"s":2,"x":9.191,"y":18.31},{"s":2,"x":9.21,"y":18.8},{"s":2,"x":9.228,"y":18.87},{"s":2,"x":9.245,"y":18.6},{"s":2,"x":9.265,"y":18.45},{"s":2,"x":9.29,"y":18.3},{"s":2,"x":9.314,"y":18.17},{"s":2,"x":9.33,"y":18.05},{"s":2,"x":9.345,"y":17.9},{"s":2,"x":9.36,"y":18.2},{"s":2,"x":9.388,"y":18.87},{"s":2,"x":9.405,"y":19.7},{"s":2,"x":9.425,"y":20.71},{"s":2,"x":9.445,"y":21.6},{"s":2,"x":9.462,"y":22.05},{"s":2,"x":9.475,"y":21.6},{"s":2,"x":9.487,"y":20.85},{"s":2,"x":9.5,"y":21.5},{"s":2,"x":9.511,"y":21.98},{"s":2,"x":9.524,"y":21.2},{"s":2,"x":9.536,"y":20.85},{"s":2,"x":9.55,"y":21.0},{"s":2,"x":9.56,"y":20.0},{"s":2,"x":9.573,"y":20.57},{"s":2,"x":9.585,"y":19.8},{"s":2,"x":9.597,"y":19.44},{"s":2,"x":9.61,"y":20.2},{"s":2,"x":9.622,"y":20.42},{"s":2,"x":9.635,"y":19.7},{"s":2,"x":9.647,"y":19.58},{"s":2,"x":9.66,"y":20.1},{"s":2,"x":9.671,"y":20.28},{"s":2,"x":9.684,"y":19.6},{"s":2,"x":9.696,"y":19.44},{"s":2,"x":9.708,"y":20.0},{"s":2,"x":9.72,"y":20.57},{"s":2,"x":9.733,"y":21.5},{"s":2,"x":9.745,"y":22.12},{"s":2,"x":9.757,"y":20.5},{"s":2,"x":9.77,"y":19.58},{"s":2,"x":9.782,"y":21.0},{"s":2,"x":9.794,"y":22.54},{"s":2,"x":9.807,"y":21.3},{"s":2,"x":9.819,"y":20.42},{"s":2,"x":9.832,"y":19.9},{"s":2,"x":9.844,"y":19.58},{"s":2,"x":9.856,"y":20.0},{"s":2,"x":9.868,"y":19.86},{"s":2,"x":9.88,"y":19.3},{"s":2,"x":9.893,"y":19.9},{"s":2,"x":9.905,"y":19.15},{"s":2,"x":9.92,"y":19.5},{"s":2,"x":9.942,"y":19.86},{"s":2,"x":9.96,"y":19.2},{"s":2,"x":9.978,"y":18.59},{"s":2,"x":9.99,"y":19.0},{"s":2,"x":10.00,"y":19.5},
{"s":3,"x":10.00,"y":19.5},{"s":3,"x":10.015,"y":20.28},{"s":3,"x":10.028,"y":19.2},{"s":3,"x":10.04,"y":18.87},{"s":3,"x":10.058,"y":19.2},{"s":3,"x":10.077,"y":19.44},{"s":3,"x":10.095,"y":19.0},{"s":3,"x":10.114,"y":18.87},{"s":3,"x":10.14,"y":19.3},{"s":3,"x":10.163,"y":20.0},{"s":3,"x":10.175,"y":19.0},{"s":3,"x":10.188,"y":18.45},{"s":3,"x":10.205,"y":19.5},{"s":3,"x":10.225,"y":19.86},{"s":3,"x":10.243,"y":18.9},{"s":3,"x":10.262,"y":18.45},{"s":3,"x":10.28,"y":19.4},{"s":3,"x":10.299,"y":19.86},{"s":3,"x":10.317,"y":18.8},{"s":3,"x":10.335,"y":18.31},{"s":3,"x":10.35,"y":18.2},{"s":3,"x":10.372,"y":18.1},{"s":3,"x":10.4,"y":18.2},{"s":3,"x":10.44,"y":18.1},{"s":3,"x":10.471,"y":18.17},{"s":3,"x":10.5,"y":18.3},{"s":3,"x":10.52,"y":19.3},{"s":3,"x":10.532,"y":20.28},{"s":3,"x":10.545,"y":19.2},{"s":3,"x":10.557,"y":19.0},{"s":3,"x":10.575,"y":18.9},{"s":3,"x":10.594,"y":18.87},{"s":3,"x":10.612,"y":18.95},{"s":3,"x":10.631,"y":18.87},{"s":3,"x":10.65,"y":18.8},{"s":3,"x":10.668,"y":18.73},{"s":3,"x":10.68,"y":19.3},{"s":3,"x":10.692,"y":19.72},{"s":3,"x":10.705,"y":19.0},{"s":3,"x":10.717,"y":18.45},{"s":3,"x":10.735,"y":19.2},{"s":3,"x":10.754,"y":19.58},{"s":3,"x":10.767,"y":19.0},{"s":3,"x":10.779,"y":18.38},{"s":3,"x":10.81,"y":18.7},{"s":3,"x":10.84,"y":19.58},{"s":3,"x":10.852,"y":19.0},{"s":3,"x":10.865,"y":18.31},{"s":3,"x":10.883,"y":19.1},{"s":3,"x":10.902,"y":19.72},{"s":3,"x":10.914,"y":19.0},{"s":3,"x":10.926,"y":18.31},{"s":3,"x":10.945,"y":19.0},{"s":3,"x":10.963,"y":19.65},{"s":3,"x":10.98,"y":18.9},{"s":3,"x":11.00,"y":18.45},
{"s":4,"x":11.00,"y":18.45},{"s":4,"x":11.012,"y":18.9},{"s":4,"x":11.025,"y":19.15},{"s":4,"x":11.043,"y":18.8},{"s":4,"x":11.062,"y":18.73},{"s":4,"x":11.085,"y":18.8},{"s":4,"x":11.111,"y":18.66},{"s":4,"x":11.13,"y":19.0},{"s":4,"x":11.148,"y":19.58},{"s":4,"x":11.16,"y":19.0},{"s":4,"x":11.173,"y":18.59},{"s":4,"x":11.2,"y":18.9},{"s":4,"x":11.222,"y":19.15},{"s":4,"x":11.24,"y":18.8},{"s":4,"x":11.259,"y":18.59},{"s":4,"x":11.28,"y":18.3},{"s":4,"x":11.296,"y":18.17},{"s":4,"x":11.33,"y":18.25},{"s":4,"x":11.357,"y":18.31},{"s":4,"x":11.385,"y":18.2},{"s":4,"x":11.407,"y":18.1},{"s":4,"x":11.43,"y":18.3},{"s":4,"x":11.45,"y":18.9},{"s":4,"x":11.468,"y":19.0},{"s":4,"x":11.487,"y":18.5},{"s":4,"x":11.505,"y":18.31},{"s":4,"x":11.53,"y":18.6},{"s":4,"x":11.553,"y":18.8},{"s":4,"x":11.566,"y":20.0},{"s":4,"x":11.578,"y":18.9},{"s":4,"x":11.591,"y":18.31},{"s":4,"x":11.604,"y":19.0},{"s":4,"x":11.616,"y":20.42},{"s":4,"x":11.628,"y":19.2},{"s":4,"x":11.64,"y":18.31},{"s":4,"x":11.665,"y":18.7},{"s":4,"x":11.69,"y":18.87},{"s":4,"x":11.715,"y":18.7},{"s":4,"x":11.739,"y":19.15},{"s":4,"x":11.757,"y":18.6},{"s":4,"x":11.776,"y":18.31},{"s":4,"x":11.788,"y":18.9},{"s":4,"x":11.8,"y":19.37},{"s":4,"x":11.818,"y":18.8},{"s":4,"x":11.837,"y":18.31},{"s":4,"x":11.85,"y":18.9},{"s":4,"x":11.862,"y":19.44},{"s":4,"x":11.88,"y":18.8},{"s":4,"x":11.899,"y":18.31},{"s":4,"x":11.93,"y":18.8},{"s":4,"x":11.96,"y":19.37},{"s":4,"x":11.98,"y":18.7},{"s":4,"x":12.00,"y":18.31},
{"s":5,"x":12.00,"y":18.31},{"s":5,"x":12.022,"y":18.59},{"s":5,"x":12.034,"y":19.0},{"s":5,"x":12.046,"y":19.44},{"s":5,"x":12.058,"y":18.8},{"s":5,"x":12.071,"y":18.31},{"s":5,"x":12.09,"y":18.9},{"s":5,"x":12.108,"y":19.37},{"s":5,"x":12.12,"y":18.6},{"s":5,"x":12.133,"y":18.31},{"s":5,"x":12.15,"y":18.7},{"s":5,"x":12.17,"y":18.73},{"s":5,"x":12.19,"y":18.6},{"s":5,"x":12.207,"y":18.45},{"s":5,"x":12.225,"y":18.5},{"s":5,"x":12.243,"y":18.45},{"s":5,"x":12.26,"y":18.5},{"s":5,"x":12.28,"y":19.5},{"s":5,"x":12.3,"y":20.4},{"s":5,"x":12.317,"y":20.71},{"s":5,"x":12.33,"y":20.7},{"s":5,"x":12.342,"y":20.57},{"s":5,"x":12.354,"y":21.27},{"s":5,"x":12.366,"y":19.5},{"s":5,"x":12.379,"y":18.87},{"s":5,"x":12.395,"y":19.8},{"s":5,"x":12.416,"y":20.57},{"s":5,"x":12.428,"y":19.3},{"s":5,"x":12.44,"y":18.59},{"s":5,"x":12.452,"y":19.5},{"s":5,"x":12.465,"y":20.28},{"s":5,"x":12.478,"y":19.2},{"s":5,"x":12.49,"y":18.45},{"s":5,"x":12.502,"y":20.0},{"s":5,"x":12.514,"y":22.12},{"s":5,"x":12.527,"y":20.8},{"s":5,"x":12.539,"y":20.42},{"s":5,"x":12.55,"y":21.0},{"s":5,"x":12.563,"y":21.41},{"s":5,"x":12.575,"y":20.9},{"s":5,"x":12.588,"y":20.71},{"s":5,"x":12.6,"y":21.2},{"s":5,"x":12.613,"y":21.55},{"s":5,"x":12.625,"y":20.9},{"s":5,"x":12.637,"y":20.57},{"s":5,"x":12.655,"y":21.3},{"s":5,"x":12.674,"y":21.98},{"s":5,"x":12.687,"y":21.2},{"s":5,"x":12.699,"y":20.85},{"s":5,"x":12.717,"y":21.5},{"s":5,"x":12.736,"y":22.4},{"s":5,"x":12.748,"y":21.6},{"s":5,"x":12.76,"y":21.0},{"s":5,"x":12.772,"y":21.8},{"s":5,"x":12.785,"y":22.4},{"s":5,"x":12.797,"y":21.8},{"s":5,"x":12.81,"y":20.57},{"s":5,"x":12.835,"y":19.0},{"s":5,"x":12.859,"y":18.31},{"s":5,"x":12.883,"y":18.6},{"s":5,"x":12.908,"y":18.45},{"s":5,"x":12.92,"y":19.2},{"s":5,"x":12.933,"y":19.72},{"s":5,"x":12.945,"y":18.9},{"s":5,"x":12.957,"y":18.31},{"s":5,"x":12.97,"y":19.3},{"s":5,"x":12.982,"y":20.14},{"s":5,"x":13.00,"y":19.0},
{"s":6,"x":13.00,"y":19.0},{"s":6,"x":13.015,"y":19.6},{"s":6,"x":13.031,"y":20.14},{"s":6,"x":13.043,"y":19.0},{"s":6,"x":13.056,"y":18.31},{"s":6,"x":13.068,"y":19.4},{"s":6,"x":13.08,"y":20.14},{"s":6,"x":13.105,"y":19.0},{"s":6,"x":13.13,"y":18.31},{"s":6,"x":13.142,"y":19.3},{"s":6,"x":13.154,"y":20.0},{"s":6,"x":13.172,"y":19.0},{"s":6,"x":13.191,"y":18.31},{"s":6,"x":13.21,"y":19.5},{"s":6,"x":13.23,"y":20.1},{"s":6,"x":13.25,"y":18.6},{"s":6,"x":13.27,"y":19.8},{"s":6,"x":13.29,"y":21.0},{"s":6,"x":13.30,"y":22.0},{"s":6,"x":13.315,"y":21.0},{"s":6,"x":13.33,"y":19.3},{"s":6,"x":13.345,"y":18.6},{"s":6,"x":13.36,"y":19.5},{"s":6,"x":13.375,"y":18.5},{"s":6,"x":13.39,"y":19.4},{"s":6,"x":13.405,"y":18.6},{"s":6,"x":13.42,"y":19.5},{"s":6,"x":13.435,"y":18.5},{"s":6,"x":13.45,"y":19.4},{"s":6,"x":13.465,"y":18.7},{"s":6,"x":13.48,"y":19.6},{"s":6,"x":13.495,"y":20.6},{"s":6,"x":13.51,"y":23.2},{"s":6,"x":13.525,"y":21.6},{"s":6,"x":13.54,"y":22.3},{"s":6,"x":13.555,"y":21.5},{"s":6,"x":13.57,"y":22.4},{"s":6,"x":13.585,"y":21.6},{"s":6,"x":13.60,"y":22.3},{"s":6,"x":13.615,"y":21.5},{"s":6,"x":13.63,"y":22.2},{"s":6,"x":13.645,"y":21.6},{"s":6,"x":13.66,"y":22.4},{"s":6,"x":13.675,"y":21.5},{"s":6,"x":13.69,"y":22.2},{"s":6,"x":13.705,"y":21.6},{"s":6,"x":13.72,"y":22.1},{"s":6,"x":13.735,"y":21.5},{"s":6,"x":13.75,"y":21.9},{"s":6,"x":13.76,"y":19.2},{"s":6,"x":13.775,"y":18.3},{"s":6,"x":13.79,"y":19.0},{"s":6,"x":13.805,"y":18.3},{"s":6,"x":13.82,"y":19.1},{"s":6,"x":13.835,"y":18.2},{"s":6,"x":13.85,"y":19.0},{"s":6,"x":13.865,"y":18.3},{"s":6,"x":13.88,"y":19.1},{"s":6,"x":13.895,"y":18.2},{"s":6,"x":13.91,"y":19.0},{"s":6,"x":13.925,"y":18.3},{"s":6,"x":13.94,"y":19.1},{"s":6,"x":13.955,"y":18.2},{"s":6,"x":13.97,"y":19.0},{"s":6,"x":13.985,"y":18.3},{"s":6,"x":14.00,"y":18.8},
{"s":7,"x":14.00,"y":18.8},{"s":7,"x":14.015,"y":18.2},{"s":7,"x":14.03,"y":19.2},{"s":7,"x":14.045,"y":18.3},{"s":7,"x":14.06,"y":19.3},{"s":7,"x":14.075,"y":18.2},{"s":7,"x":14.09,"y":19.1},{"s":7,"x":14.105,"y":18.3},{"s":7,"x":14.12,"y":19.2},{"s":7,"x":14.135,"y":18.2},{"s":7,"x":14.15,"y":19.0},{"s":7,"x":14.165,"y":18.3},{"s":7,"x":14.18,"y":19.1},{"s":7,"x":14.195,"y":18.2},{"s":7,"x":14.21,"y":18.9},{"s":7,"x":14.23,"y":18.3},{"s":7,"x":14.26,"y":18.1},{"s":7,"x":14.3,"y":17.9},{"s":7,"x":14.34,"y":17.8},{"s":7,"x":14.38,"y":17.9},{"s":7,"x":14.41,"y":18.2},{"s":7,"x":14.43,"y":19.5},{"s":7,"x":14.45,"y":20.8},{"s":7,"x":14.47,"y":21.6},{"s":7,"x":14.49,"y":21.9},{"s":7,"x":14.505,"y":21.8},{"s":7,"x":14.52,"y":20.8},{"s":7,"x":14.535,"y":21.5},{"s":7,"x":14.55,"y":19.8},{"s":7,"x":14.565,"y":21.2},{"s":7,"x":14.58,"y":19.6},{"s":7,"x":14.595,"y":21.3},{"s":7,"x":14.61,"y":19.7},{"s":7,"x":14.625,"y":21.4},{"s":7,"x":14.64,"y":19.6},{"s":7,"x":14.655,"y":21.9},{"s":7,"x":14.67,"y":19.8},{"s":7,"x":14.685,"y":21.2},{"s":7,"x":14.70,"y":20.2},{"s":7,"x":14.715,"y":21.0},{"s":7,"x":14.74,"y":20.6},{"s":7,"x":14.77,"y":20.0},{"s":7,"x":14.80,"y":19.5},{"s":7,"x":14.83,"y":19.0},{"s":7,"x":14.86,"y":18.6},{"s":7,"x":14.89,"y":18.2},{"s":7,"x":14.92,"y":17.9},{"s":7,"x":14.96,"y":17.6},{"s":7,"x":15.00,"y":17.4}
]
},
"vconcat":[
{"title":"Maximum Flexibility Feb7-14 Floor 0 With Historical Effects","width":1082,"height":166,
"layer":[
{"data":{"name":"bands"},"mark":{"type":"rect","stroke":"black","strokeOpacity":0.3,"strokeWidth":1.5},
"encoding":{"x":{"field":"x","type":"quantitative","scale":{"domain":[7,15],"nice":false},"axis":{"values":[7,8,9,10,11,12,13,14],"labels":false,"title":null}},"x2":{"field":"x2"},
"fill":{"field":"label","type":"nominal","scale":{"range":["#333333","#474747","#626262","#7b7b7b","#969696","#b0b0b0","#c9c9c9","#e3e3e3"]},"legend":null}}},
{"data":{"values":[{"g":20},{"g":22.5}]},"mark":{"type":"rule","color":"#b0b0b0","strokeWidth":2},
"encoding":{"y":{"field":"g","type":"quantitative","scale":{"domain":[18,25],"nice":false},"axis":{"values":[20,22.5,25],"format":".1f","title":null}}}},
{"data":{"name":"f0"},"transform":[{"lookup":"s","from":{"data":{"name":"bands"},"key":"s","fields":["label"]}}],
"mark":{"type":"line","strokeWidth":3,"clip":true},
"encoding":{"x":{"field":"x","type":"quantitative","scale":{"domain":[7,15],"nice":false},"axis":{"values":[7,8,9,10,11,12,13,14],"labels":false,"title":null}},
"y":{"field":"y","type":"quantitative","scale":{"domain":[18,25],"nice":false},"axis":{"values":[20,22.5,25],"format":".1f","title":null}},
"color":{"field":"label","type":"nominal","scale":{"range":["#e5e5e5","#cfcfcf","#b5b5b5","#9c9c9c","#838383","#696969","#4d4d4d","#2e2e2e"]},"legend":{"orient":"none","legendX":851,"legendY":338,"title":null}}}}
]},
{"title":{"text":"Maximum Flexibility Feb7-14 Floor 1 With Historical Effects","offset":-23},"width":1082,"height":166,
"layer":[
{"data":{"name":"bands"},"mark":{"type":"rect","stroke":"black","strokeOpacity":0.3,"strokeWidth":1.5},
"encoding":{"x":{"field":"x","type":"quantitative","scale":{"domain":[7,15],"nice":false},"axis":{"values":[7,8,9,10,11,12,13,14],"labels":false,"title":null}},"x2":{"field":"x2"},
"fill":{"field":"label","type":"nominal","scale":{"range":["#333333","#474747","#626262","#7b7b7b","#969696","#b0b0b0","#c9c9c9","#e3e3e3"]},"legend":null}}},
{"data":{"values":[{"g":20},{"g":22.5}]},"mark":{"type":"rule","color":"#b0b0b0","strokeWidth":2},
"encoding":{"y":{"field":"g","type":"quantitative","scale":{"domain":[18,25],"nice":false},"axis":{"values":[20,22.5,25],"format":".1f","title":"Operative Temperature [°C]","titleX":-88,"titleY":129,"titleBaseline":"middle"}}}},
{"data":{"name":"f1"},"transform":[{"lookup":"s","from":{"data":{"name":"bands"},"key":"s","fields":["label"]}}],
"mark":{"type":"line","strokeWidth":3,"clip":true},
"encoding":{"x":{"field":"x","type":"quantitative","scale":{"domain":[7,15],"nice":false},"axis":{"values":[7,8,9,10,11,12,13,14],"labels":false,"title":null}},
"y":{"field":"y","type":"quantitative","scale":{"domain":[18,25],"nice":false},"axis":{"values":[20,22.5,25],"format":".1f","title":"Operative Temperature [°C]","titleX":-88,"titleY":129,"titleBaseline":"middle"}},
"color":{"field":"label","type":"nominal","scale":{"range":["#e5e5e5","#cfcfcf","#b5b5b5","#9c9c9c","#838383","#696969","#4d4d4d","#2e2e2e"]},"legend":{"orient":"none","legendX":851,"legendY":338,"title":null}}}}
]},
{"title":"Maximum Flexibility Feb7-14 Floor 2 With Historical Effects","width":1082,"height":166,
"layer":[
{"data":{"name":"bands"},"mark":{"type":"rect","stroke":"black","strokeOpacity":0.3,"strokeWidth":1.5},
"encoding":{"x":{"field":"x","type":"quantitative","scale":{"domain":[7,15],"nice":false},"axis":{"values":[7,8,9,10,11,12,13,14],"labelFlush":false,"labelOverlap":false,"labelLineHeight":24,"labelPadding":14,"labelExpr":"datum.value == 7 ? ['07','Feb'] : (datum.value < 10 ? '0' + datum.value : '' + datum.value)","title":"Time [Days]","titleX":501,"titleY":91,"titleBaseline":"alphabetic"}},"x2":{"field":"x2"},
"fill":{"field":"label","type":"nominal","scale":{"range":["#333333","#474747","#626262","#7b7b7b","#969696","#b0b0b0","#c9c9c9","#e3e3e3"]},"legend":null}}},
{"data":{"values":[{"g":20},{"g":22.5}]},"mark":{"type":"rule","color":"#b0b0b0","strokeWidth":2},
"encoding":{"y":{"field":"g","type":"quantitative","scale":{"domain":[18,25],"nice":false},"axis":{"values":[20,22.5,25],"format":".1f","title":null}}}},
{"data":{"name":"f2"},"transform":[{"lookup":"s","from":{"data":{"name":"bands"},"key":"s","fields":["label"]}}],
"mark":{"type":"line","strokeWidth":3,"clip":true},
"encoding":{"x":{"field":"x","type":"quantitative","scale":{"domain":[7,15],"nice":false},"axis":{"values":[7,8,9,10,11,12,13,14],"labelFlush":false,"labelOverlap":false,"labelLineHeight":24,"labelPadding":14,"labelExpr":"datum.value == 7 ? ['07','Feb'] : (datum.value < 10 ? '0' + datum.value : '' + datum.value)","title":"Time [Days]","titleX":501,"titleY":91,"titleBaseline":"alphabetic"}},
"y":{"field":"y","type":"quantitative","scale":{"domain":[18,25],"nice":false},"axis":{"values":[20,22.5,25],"format":".1f","title":null}},
"color":{"field":"label","type":"nominal","scale":{"range":["#e5e5e5","#cfcfcf","#b5b5b5","#9c9c9c","#838383","#696969","#4d4d4d","#2e2e2e"]},"legend":{"orient":"none","legendX":851,"legendY":338,"title":null}}}}
]}
]
}
